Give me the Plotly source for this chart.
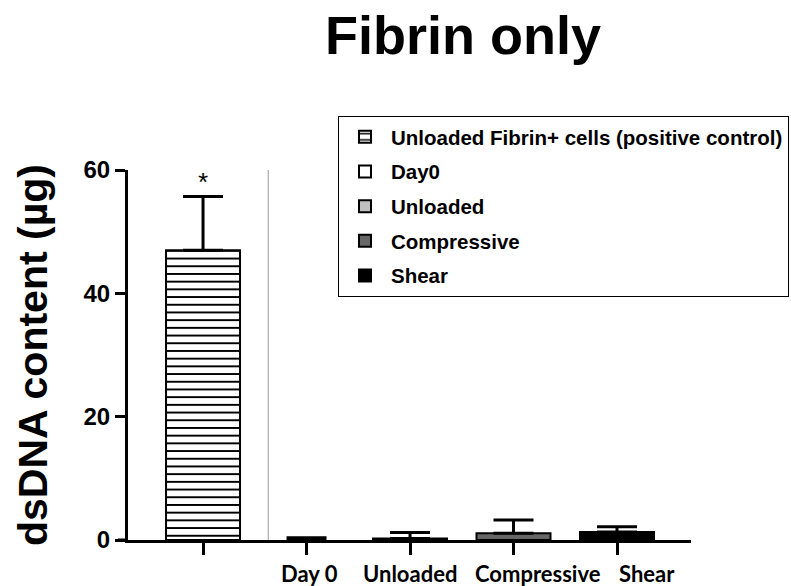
import plotly.graph_objects as go

categories = ["Unloaded Fibrin+ cells (positive control)", "Day0", "Unloaded", "Compressive", "Shear"]
tick_labels = ["", "Day 0", "Unloaded", "Compressive", "Shear"]
means = [47.0, 0.0, 0.25, 1.1, 1.3]
sds = [8.7, 0.35, 0.95, 2.15, 0.85]
y_ticks = [0, 20, 40, 60]

fills = ["white", "white", "#c0c0c0", "#666666", "#000000"]
patterns = ["-", "", "", "", ""]
label_shifts = [0, 3, 0, 24, 30]

FONT = "Liberation Sans, Arial, sans-serif"
TICKFONT = "Lato, Liberation Sans, sans-serif"

fig = go.Figure()
for i, cat in enumerate(categories):
    zero_bar = means[i] == 0
    marker = dict(color=fills[i], line=dict(color="black", width=2),
                  pattern=dict(shape=patterns[i], fgcolor="black", bgcolor="white",
                               size=7.7, solidity=0.25))
    fig.add_trace(go.Bar(
        x=[cat], y=[means[i]], name=cat,
        width=0.715,
        marker=dict(marker, line=dict(color="black", width=0 if zero_bar else 2)),
        error_y=dict(type="data", symmetric=False, array=[sds[i]], arrayminus=[0],
                     color="black", thickness=3, width=20),
        legendgroup=str(i), showlegend=not zero_bar,
    ))
    if zero_bar:
        # legend entry (outlined swatch) for a bar whose height is zero
        fig.add_trace(go.Bar(x=[cat], y=[None], name=cat, width=0.715, marker=marker,
                             legendgroup=str(i), showlegend=True))
    if tick_labels[i]:
        fig.add_annotation(x=cat, xref="x", y=0, yref="paper", yanchor="middle",
                           yshift=-33, xshift=label_shifts[i], text="<b>%s</b>" % tick_labels[i],
                           showarrow=False,
                           font=dict(family=TICKFONT, size=22, color="black"))

fig.add_shape(type="line", xref="x", yref="y", x0=0.63, x1=0.63, y0=0, y1=60,
              line=dict(color="#999999", width=1))
fig.add_shape(type="line", xref="paper", yref="y", x0=-10/563, x1=0, y0=0, y1=0,
              line=dict(color="black", width=3))
fig.add_annotation(x=categories[0], y=58.0, text="*", showarrow=False,
                   font=dict(family=FONT, size=26, color="black"), yanchor="middle")

fig.update_layout(
    template="none",
    width=791, height=586,
    margin=dict(l=128, r=100, t=170, b=46, autoexpand=False),
    paper_bgcolor="white", plot_bgcolor="white",
    barmode="overlay",
    title=dict(text="<b>Fibrin only</b>", x=463/791, xanchor="center", y=1-35/586, yanchor="middle",
               font=dict(family=FONT, size=54, color="black")),
    showlegend=True,
    legend=dict(x=(338-128)/563, y=(540-116)/370, itemwidth=42,
                xanchor="left", yanchor="top", bordercolor="black", borderwidth=1,
                bgcolor="white", traceorder="grouped", tracegroupgap=5,
                font=dict(family=FONT, size=20.5, color="black", weight="bold")),
    xaxis=dict(range=[-0.725, 4.715], tickmode="array", tickvals=categories,
               showticklabels=False, automargin=False,
               showline=True, linecolor="black", linewidth=3, ticks="outside", ticklen=12,
               tickwidth=3, tickcolor="black", showgrid=False, zeroline=False),
    yaxis=dict(range=[0, 60], tickvals=y_ticks, showline=True, linecolor="black", linewidth=3,
               automargin=False,
               ticks="outside", ticklen=10, tickwidth=3, tickcolor="black", showgrid=False,
               zeroline=False,
               tickfont=dict(family=FONT, size=24, color="black", weight="bold"),
               title=dict(text="dsDNA content (µg)", standoff=24,
                          font=dict(family=FONT, size=41, color="black", weight="bold"))),
)

fig.write_html("out.html", config={"displayModeBar": False},
               post_script="document.body.style.margin='0';")
